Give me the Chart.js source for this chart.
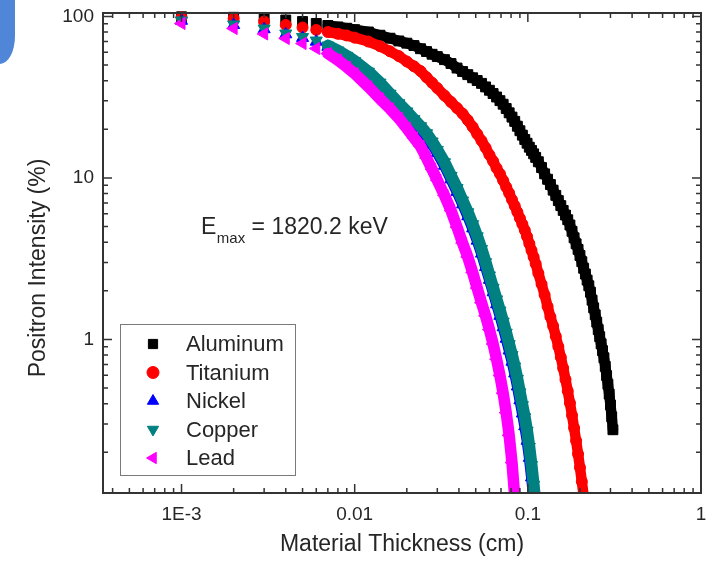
<!DOCTYPE html>
<html lang="en">
<head>
<meta charset="utf-8">
<title>Positron intensity vs material thickness</title>
<script src="https://cdn.jsdelivr.net/npm/chart.js@4.4.1/dist/chart.umd.min.js"></script>
<style>
  html, body { margin: 0; padding: 0; background: #ffffff; }
  #wrap { position: relative; width: 709px; height: 573px; overflow: hidden; }
  #chart { display: block; }
  /* piece of a blue panel that shows in the top-left corner of the original */
  #corner { position: absolute; left: 0; top: 0; width: 15px; height: 64px;
            background: #4f86d8; border-bottom-right-radius: 15px 28px; }
</style>
</head>
<body>
<div id="wrap">
  <canvas id="chart" width="709" height="573"></canvas>
  <div id="corner"></div>
</div>
<script>
// --- DATA ---
// material thickness in cm
const thickness = [
  0.001, 0.002, 0.003, 0.004, 0.005, 0.006, 0.007, 0.008, 0.009, 0.010,
  0.012, 0.014, 0.016, 0.018, 0.020, 0.022, 0.024, 0.026, 0.028, 0.030,
  0.033, 0.036, 0.039, 0.042, 0.045, 0.048, 0.051, 0.054, 0.057, 0.060,
  0.063, 0.066, 0.069, 0.072, 0.075, 0.078, 0.081, 0.084, 0.087, 0.090,
  0.093, 0.096, 0.099, 0.102, 0.105, 0.108, 0.111, 0.115, 0.120, 0.125,
  0.130, 0.135, 0.140, 0.145, 0.150, 0.155, 0.160, 0.165, 0.170, 0.175,
  0.180, 0.185, 0.190, 0.195, 0.200, 0.205, 0.210, 0.215, 0.220, 0.225,
  0.230, 0.235, 0.240, 0.245, 0.250, 0.255, 0.260, 0.265, 0.270, 0.275,
  0.280, 0.285, 0.290, 0.295, 0.300, 0.305, 0.310
];

// positron intensity in %, one value per thickness (series stop where they leave the plot)
const aluminum = [
  99.5, 98.8, 97.0, 95.0, 93.0, 90.5, 87.9, 86.1, 84.5, 82.8,
  80.1, 76.5, 73.3, 70.5, 68.3, 66.0, 63.1, 60.6, 58.3, 56.4,
  54.0, 51.1, 47.9, 45.6, 43.6, 41.7, 40.1, 38.5, 36.6, 34.9,
  33.3, 31.7, 30.1, 28.6, 26.9, 25.3, 23.8, 22.4, 20.9, 19.6,
  18.4, 17.3, 16.4, 15.5, 14.8, 14.1, 13.4, 12.6, 11.6, 10.6,
  9.81, 9.10, 8.40, 7.80, 7.24, 6.74, 6.29, 5.89, 5.51, 5.11,
  4.67, 4.26, 3.91, 3.61, 3.31, 3.03, 2.76, 2.54, 2.33, 2.15,
  1.96, 1.75, 1.57, 1.42, 1.28, 1.15, 1.04, 0.939, 0.852, 0.770,
  0.681, 0.597, 0.528, 0.459, 0.393, 0.332, 0.276
];
const titanium = [
  98.6, 97.2, 93.1, 88.6, 85.4, 82.5, 80.1, 78.1, 76.2, 73.9,
  69.9, 65.4, 60.8, 56.8, 52.6, 49.1, 45.9, 42.0, 38.8, 36.0,
  32.4, 29.5, 27.1, 25.0, 22.8, 20.7, 18.7, 17.0, 15.4, 13.9,
  12.7, 11.5, 10.6, 9.65, 8.78, 8.05, 7.33, 6.72, 6.15, 5.63,
  5.17, 4.75, 4.33, 3.92, 3.56, 3.24, 2.94, 2.57, 2.20, 1.89,
  1.60, 1.38, 1.21, 1.045, 0.904, 0.776, 0.664, 0.565, 0.479, 0.404,
  0.339, 0.283, 0.236, 0.195, 0.161, 0.132, 0.108
];
const nickel = [
  94.0, 88.5, 83.3, 77.5, 73.6, 69.8, 64.8, 60.3, 55.8, 51.7,
  44.3, 37.8, 32.2, 28.0, 24.9, 22.3, 20.1, 18.1, 16.1, 14.3,
  11.9, 9.8, 8.2, 6.86, 5.79, 4.87, 4.09, 3.40, 2.81, 2.34,
  1.96, 1.65, 1.40, 1.19, 1.01, 0.855, 0.728, 0.616, 0.512, 0.420,
  0.348, 0.290, 0.236, 0.185, 0.140, 0.104
];
const copper = [
  94.4, 89.2, 84.2, 78.4, 74.6, 70.9, 66.0, 61.5, 57.0, 52.9,
  45.5, 38.9, 33.2, 29.0, 25.8, 23.1, 20.9, 18.9, 16.8, 14.9,
  12.5, 10.3, 8.66, 7.24, 6.13, 5.17, 4.35, 3.63, 3.01, 2.49,
  2.09, 1.77, 1.51, 1.29, 1.10, 0.935, 0.800, 0.680, 0.570, 0.470,
  0.392, 0.330, 0.272, 0.216, 0.167, 0.126, 0.094
];
const lead = [
  90.5, 84.2, 77.9, 73.0, 68.0, 63.3, 58.9, 53.6, 48.6, 44.2,
  36.7, 30.9, 26.8, 23.4, 20.3, 17.7, 15.7, 13.3, 11.3, 9.69,
  7.80, 6.29, 4.96, 3.95, 3.24, 2.60, 2.08, 1.69, 1.40, 1.15,
  0.937, 0.753, 0.598, 0.465, 0.352, 0.255, 0.173, 0.106
];

const xTickValues = [0.001, 0.01, 0.1, 1];
const xTickLabels = ['1E-3', '0.01', '0.1', '1'];
const yTickValues = [1, 10, 100];
const yTickLabels = ['1', '10', '100'];

const X_MIN = 3.52e-4, X_MAX = 1;
const Y_MIN = 0.112, Y_MAX = 105;

const FONT = "'Liberation Sans', Arial, Helvetica, sans-serif";
const INK = '#262626';

const series = [
  { label: 'Aluminum', values: aluminum, color: '#000000', style: 'rect',     radius: 7,   rotation: 0,   line: 10.5 },
  { label: 'Titanium', values: titanium, color: '#ff0000', style: 'circle',   radius: 5.5, rotation: 0,   line: 10.5 },
  { label: 'Nickel',   values: nickel,   color: '#0000ff', style: 'triangle', radius: 7,   rotation: 0,   line: 11 },
  { label: 'Copper',   values: copper,   color: '#008080', style: 'triangle', radius: 7,   rotation: 180, line: 12 },
  { label: 'Lead',     values: lead,     color: '#ff00ff', style: 'triangle', radius: 7,   rotation: 270, line: 11.5 }
];

// tick marks 1..9 x 10^n inside the axis range
function logMarks(min, max) {
  const marks = [];
  for (let e = Math.floor(Math.log10(min)); e <= Math.ceil(Math.log10(max)); e++) {
    for (let m = 1; m <= 9; m++) {
      const v = parseFloat((m * Math.pow(10, e)).toPrecision(6));
      if (v >= min && v <= max) marks.push(v);
    }
  }
  return marks;
}
function isDecade(v) {
  const l = Math.log10(v);
  return Math.abs(l - Math.round(l)) < 1e-6;
}
function labelFor(v, values, labels) {
  const i = values.findIndex(t => Math.abs(t - v) / t < 1e-6);
  return i < 0 ? '' : labels[i];
}

// markers for the legend box, same shapes as chart.js uses
function drawMarker(ctx, style, cx, cy, r, rot) {
  ctx.beginPath();
  if (style === 'rect') {
    const h = r * Math.SQRT1_2;
    ctx.rect(cx - h, cy - h, 2 * h, 2 * h);
  } else if (style === 'circle') {
    ctx.arc(cx, cy, r, 0, Math.PI * 2);
  } else {
    let a = rot * Math.PI / 180;
    for (let k = 0; k < 3; k++) {
      const px = cx + Math.sin(a) * r, py = cy - Math.cos(a) * r;
      if (k === 0) ctx.moveTo(px, py); else ctx.lineTo(px, py);
      a += 2 * Math.PI / 3;
    }
    ctx.closePath();
  }
  ctx.fill();
  ctx.stroke();
}

// frame with inward ticks on all four sides, legend, note and y title
const decorations = {
  id: 'decorations',
  afterDatasetsDraw(chart) {
    const { ctx, chartArea: a, scales: { x, y } } = chart;
    ctx.save();

    // ticks
    ctx.strokeStyle = '#333333';
    ctx.lineWidth = 1.5;
    ctx.beginPath();
    x.ticks.forEach(t => {
      const px = x.getPixelForValue(t.value);
      const len = isDecade(t.value) ? 9 : 5;
      ctx.moveTo(px, a.bottom); ctx.lineTo(px, a.bottom - len);
      ctx.moveTo(px, a.top); ctx.lineTo(px, a.top + len);
    });
    y.ticks.forEach(t => {
      const py = y.getPixelForValue(t.value);
      const len = isDecade(t.value) ? 9 : 5;
      ctx.moveTo(a.left, py); ctx.lineTo(a.left + len, py);
      ctx.moveTo(a.right, py); ctx.lineTo(a.right - len, py);
    });
    ctx.stroke();

    ctx.lineWidth = 2;
    ctx.strokeRect(a.left, a.top, a.right - a.left, a.bottom - a.top);

    // legend
    const lg = { left: 120, top: 324, width: 175, height: 151, rowY: 344, rowStep: 28.5, markerX: 153, textX: 186 };
    ctx.fillStyle = '#ffffff';
    ctx.fillRect(lg.left, lg.top, lg.width, lg.height);
    ctx.strokeStyle = '#7a7a7a';
    ctx.lineWidth = 1;
    ctx.strokeRect(lg.left + 0.5, lg.top + 0.5, lg.width, lg.height);
    ctx.font = '22px ' + FONT;
    ctx.textAlign = 'left';
    ctx.textBaseline = 'middle';
    series.forEach((s, i) => {
      const ry = lg.rowY + i * lg.rowStep;
      ctx.fillStyle = s.color;
      ctx.strokeStyle = s.color;
      ctx.lineWidth = 1;
      drawMarker(ctx, s.style, lg.markerX, ry, s.style === 'circle' ? 6 : 6.5, s.rotation);
      ctx.fillStyle = INK;
      ctx.fillText(s.label, lg.textX, ry + 1);
    });

    // E_max note
    ctx.fillStyle = INK;
    ctx.textBaseline = 'alphabetic';
    let tx = 201;
    ctx.font = '23px ' + FONT;
    ctx.fillText('E', tx, 234);
    tx += ctx.measureText('E').width + 0.5;
    ctx.font = '15px ' + FONT;
    ctx.fillText('max', tx, 243);
    tx += ctx.measureText('max').width;
    ctx.font = '23px ' + FONT;
    ctx.fillText(' = 1820.2 keV', tx, 234);

    // y axis title
    ctx.translate(39, 268);
    ctx.rotate(-Math.PI / 2);
    ctx.textAlign = 'center';
    ctx.textBaseline = 'middle';
    ctx.fillText('Positron Intensity (%)', 0, 0);

    ctx.restore();
  }
};

Chart.defaults.font.family = FONT;
Chart.defaults.color = INK;

const chart = new Chart(document.getElementById('chart'), {
  type: 'scatter',
  data: {
    datasets: series.map((s, i) => ({
      label: s.label,
      data: s.values.map((v, j) => ({ x: thickness[j], y: v })),
      order: series.length - 1 - i,   // Lead on top, Aluminum at the back
      showLine: true,
      borderColor: s.color,
      backgroundColor: s.color,
      borderWidth: s.line,
      borderJoinStyle: 'round',
      borderCapStyle: 'round',
      tension: 0,
      pointStyle: s.style,
      pointRadius: s.radius,
      pointRotation: s.rotation,
      pointBackgroundColor: s.color,
      pointBorderColor: s.color,
      pointBorderWidth: 1,
      clip: { left: 12, top: 12, right: 12, bottom: 0 },
      // the first few thicknesses are plotted as separate symbols
      segment: {
        borderColor: c => (c.p0.parsed.x < 0.0065 ? 'rgba(0,0,0,0)' : undefined)
      }
    }))
  },
  options: {
    responsive: false,
    animation: false,
    events: [],
    layout: { padding: { top: 13, right: 4, left: 0, bottom: 0 } },
    plugins: {
      legend: { display: false },
      tooltip: { enabled: false }
    },
    scales: {
      x: {
        type: 'logarithmic',
        min: X_MIN,
        max: X_MAX,
        afterBuildTicks: s => { s.ticks = logMarks(X_MIN, X_MAX).map(v => ({ value: v })); },
        afterFit: s => { s.height = 80; s.paddingLeft = 0; s.paddingRight = 0; },
        grid: { display: false, drawTicks: false },
        border: { display: false },
        ticks: {
          autoSkip: false,
          maxRotation: 0,
          padding: 10.5,
          color: INK,
          font: { size: 19 },
          callback: v => labelFor(v, xTickValues, xTickLabels)
        },
        title: {
          display: true,
          text: 'Material Thickness (cm)',
          color: INK,
          font: { size: 23 },
          padding: { top: 0, bottom: 15 }
        }
      },
      y: {
        type: 'logarithmic',
        min: Y_MIN,
        max: Y_MAX,
        afterBuildTicks: s => { s.ticks = logMarks(Y_MIN, Y_MAX).map(v => ({ value: v })); },
        afterFit: s => { s.width = 103; s.paddingTop = 0; s.paddingBottom = 0; },
        grid: { display: false, drawTicks: false },
        border: { display: false },
        ticks: {
          autoSkip: false,
          padding: 9,
          color: INK,
          font: { size: 19 },
          callback: v => labelFor(v, yTickValues, yTickLabels)
        }
      }
    }
  },
  plugins: [decorations]
});
</script>
</body>
</html>
